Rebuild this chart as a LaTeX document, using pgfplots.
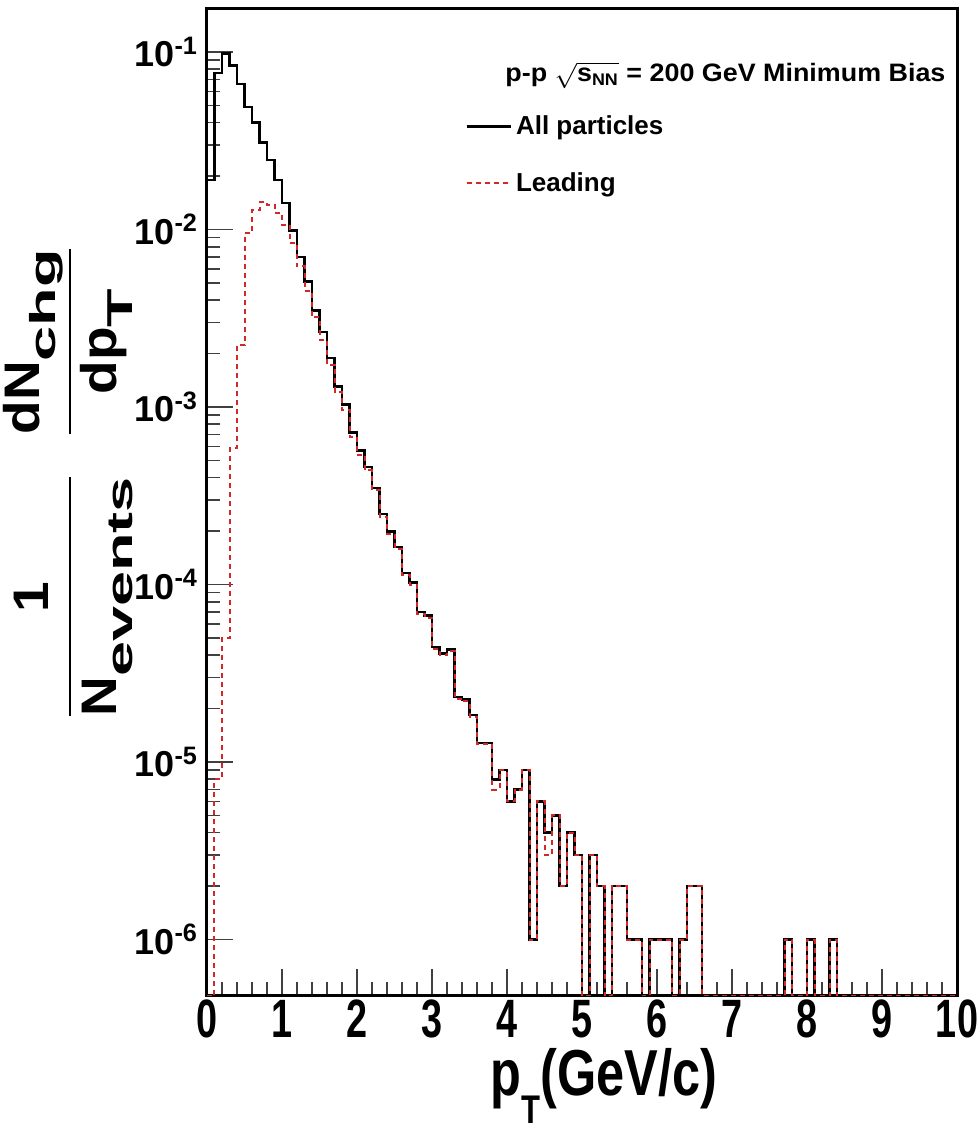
\documentclass[border=0pt]{standalone}
\usepackage{fontspec}
\setmainfont{Liberation Sans}
\usepackage{amsmath}
\usepackage{graphicx}
\usepackage{pgfplots}
\usepackage{pgfplotstable}
\pgfplotsset{compat=1.18}
\definecolor{leadred}{RGB}{210,40,40}
\newcommand{\sbx}[2]{\scalebox{#1}[1]{#2}}
\newcommand{\ysub}[1]{\raisebox{-0.32em}{\fontsize{18}{18}\selectfont\sbx{1.75}{#1}}}

\pgfplotstableread{
x all lead
0.0 0.019 4.8e-7
0.1 0.076 8e-6
0.2 0.098 5e-5
0.3 0.084 5.9e-4
0.4 0.066 2.23e-3
0.5 0.049 9.5e-3
0.6 0.040 0.0129
0.7 0.031 0.0143
0.8 0.0246 0.0137
0.9 0.019 0.0124
1.0 0.0141 0.0106
1.1 0.0099 0.0084
1.2 0.0070 0.0062
1.3 0.0051 0.0045
1.4 0.0035 0.0032
1.5 0.00265 0.0024
1.6 0.00189 0.00173
1.7 0.0013 0.00122
1.8 0.00103 0.00096
1.9 0.00072 0.00068
2.0 0.00057 0.00054
2.1 0.00046 0.00044
2.2 0.00035 0.00034
2.3 0.00025 0.00024
2.4 0.000199 0.000192
2.5 0.000163 0.000158
2.6 0.000116 0.000113
2.7 0.000103 0.0001
2.8 7.0e-5 6.8e-5
2.9 6.7e-5 6.5e-5
3.0 4.45e-5 4.35e-5
3.1 4.1e-5 4.0e-5
3.2 4.3e-5 4.2e-5
3.3 2.32e-5 2.28e-5
3.4 2.25e-5 2.2e-5
3.5 1.84e-5 1.8e-5
3.6 1.28e-5 1.26e-5
3.7 1.28e-5 1.26e-5
3.8 8e-6 7e-6
3.9 9e-6 9e-6
4.0 6e-6 6e-6
4.1 7e-6 7e-6
4.2 9e-6 9e-6
4.3 1e-6 1e-6
4.4 6e-6 6e-6
4.5 4e-6 3e-6
4.6 5e-6 5e-6
4.7 2e-6 2e-6
4.8 4e-6 4e-6
4.9 3e-6 3e-6
5.0 4.8e-7 4.8e-7
5.1 3e-6 3e-6
5.2 2e-6 2e-6
5.3 4.8e-7 4.8e-7
5.4 2e-6 2e-6
5.5 2e-6 2e-6
5.6 1e-6 1e-6
5.7 1e-6 1e-6
5.8 4.8e-7 4.8e-7
5.9 1e-6 1e-6
6.0 1e-6 1e-6
6.1 1e-6 1e-6
6.2 4.8e-7 4.8e-7
6.3 1e-6 1e-6
6.4 2e-6 2e-6
6.5 2e-6 2e-6
6.6 4.8e-7 4.8e-7
7.7 1e-6 1e-6
7.8 4.8e-7 4.8e-7
8.0 1e-6 1e-6
8.1 4.8e-7 4.8e-7
8.3 1e-6 1e-6
8.4 4.8e-7 4.8e-7
10.0 4.8e-7 4.8e-7
}\histdata

\begin{document}
\begin{tikzpicture}
\useasboundingbox (0,0) rectangle (489.5pt,564.5pt);
\begin{axis}[
  at={(103.5pt,67pt)}, anchor=south west,
  scale only axis, width=375pt, height=493.5pt,
  xmin=0, xmax=10, ymode=log, ymin=4.87e-7, ymax=0.177,
  axis line style={line width=1.5pt},
  tick pos=left, tick align=inside,
  xtick={0,1,...,10}, minor x tick num=4,
  ytick={1e-6,1e-5,1e-4,1e-3,1e-2,1e-1},
  yticklabels={
    {10\textsuperscript{-6}},{10\textsuperscript{-5}},{10\textsuperscript{-4}},
    {10\textsuperscript{-3}},{10\textsuperscript{-2}},{10\textsuperscript{-1}}},
  xticklabel={\scalebox{1.05}[1.5]{\pgfmathprintnumber[assume math mode=true]{\tick}}},
  major tick length=13pt, minor tick length=6.5pt,
  every tick/.style={black!75, line width=0.8pt},
  yticklabel style={font=\bfseries\fontsize{18}{20}\selectfont, xshift=-1pt},
  xticklabel style={font=\bfseries\fontsize{18}{20}\selectfont, yshift=1pt},
  xlabel={\scalebox{0.97}[1.25]{p\raisebox{-0.42em}{\fontsize{16}{16}\selectfont T}(GeV/c)}},
  xlabel style={font=\bfseries\fontsize{26}{28}\selectfont, at={(axis description cs:0.529,-0.092)}, anchor=center},
  ylabel={$\displaystyle\frac{\text{\sbx{1.1}{1}}}{\text{\sbx{1.1}{N}\ysub{events}}}\hspace{19pt}\frac{\text{\sbx{1.1}{dN}\ysub{chg}}}{\text{\sbx{1.1}{dp}\ysub{T}}}$},
  ylabel style={font=\bfseries\fontsize{25}{27}\selectfont, at={(axis description cs:-0.185,0.519)}, anchor=center},
  legend style={at={(axis description cs:0.336,0.851)}, anchor=west, draw=none, fill=none,
    font=\bfseries\fontsize{13}{15}\selectfont, row sep=13.5pt},
  legend cell align=left,
  legend image code/.code={\draw[#1] (0pt,0pt) -- (22pt,0pt);},
  clip=true,
]
\addplot[const plot mark left, black, line width=1.3pt] table[x=x, y=all] {\histdata};
\addlegendentry{All particles}
\addplot[const plot mark left, leadred, line width=1pt, dash pattern=on 2.5pt off 2pt] table[x=x, y=lead] {\histdata};
\addlegendentry{Leading}
\node[anchor=east, font=\bfseries\fontsize{12}{14}\selectfont] at (axis description cs:0.994,0.932)
  {\scalebox{1.12}[1.05]{p-p $\sqrt{\text{s}_{\text{NN}}}$ = 200 GeV Minimum Bias}};
\end{axis}
\end{tikzpicture}
\end{document}
